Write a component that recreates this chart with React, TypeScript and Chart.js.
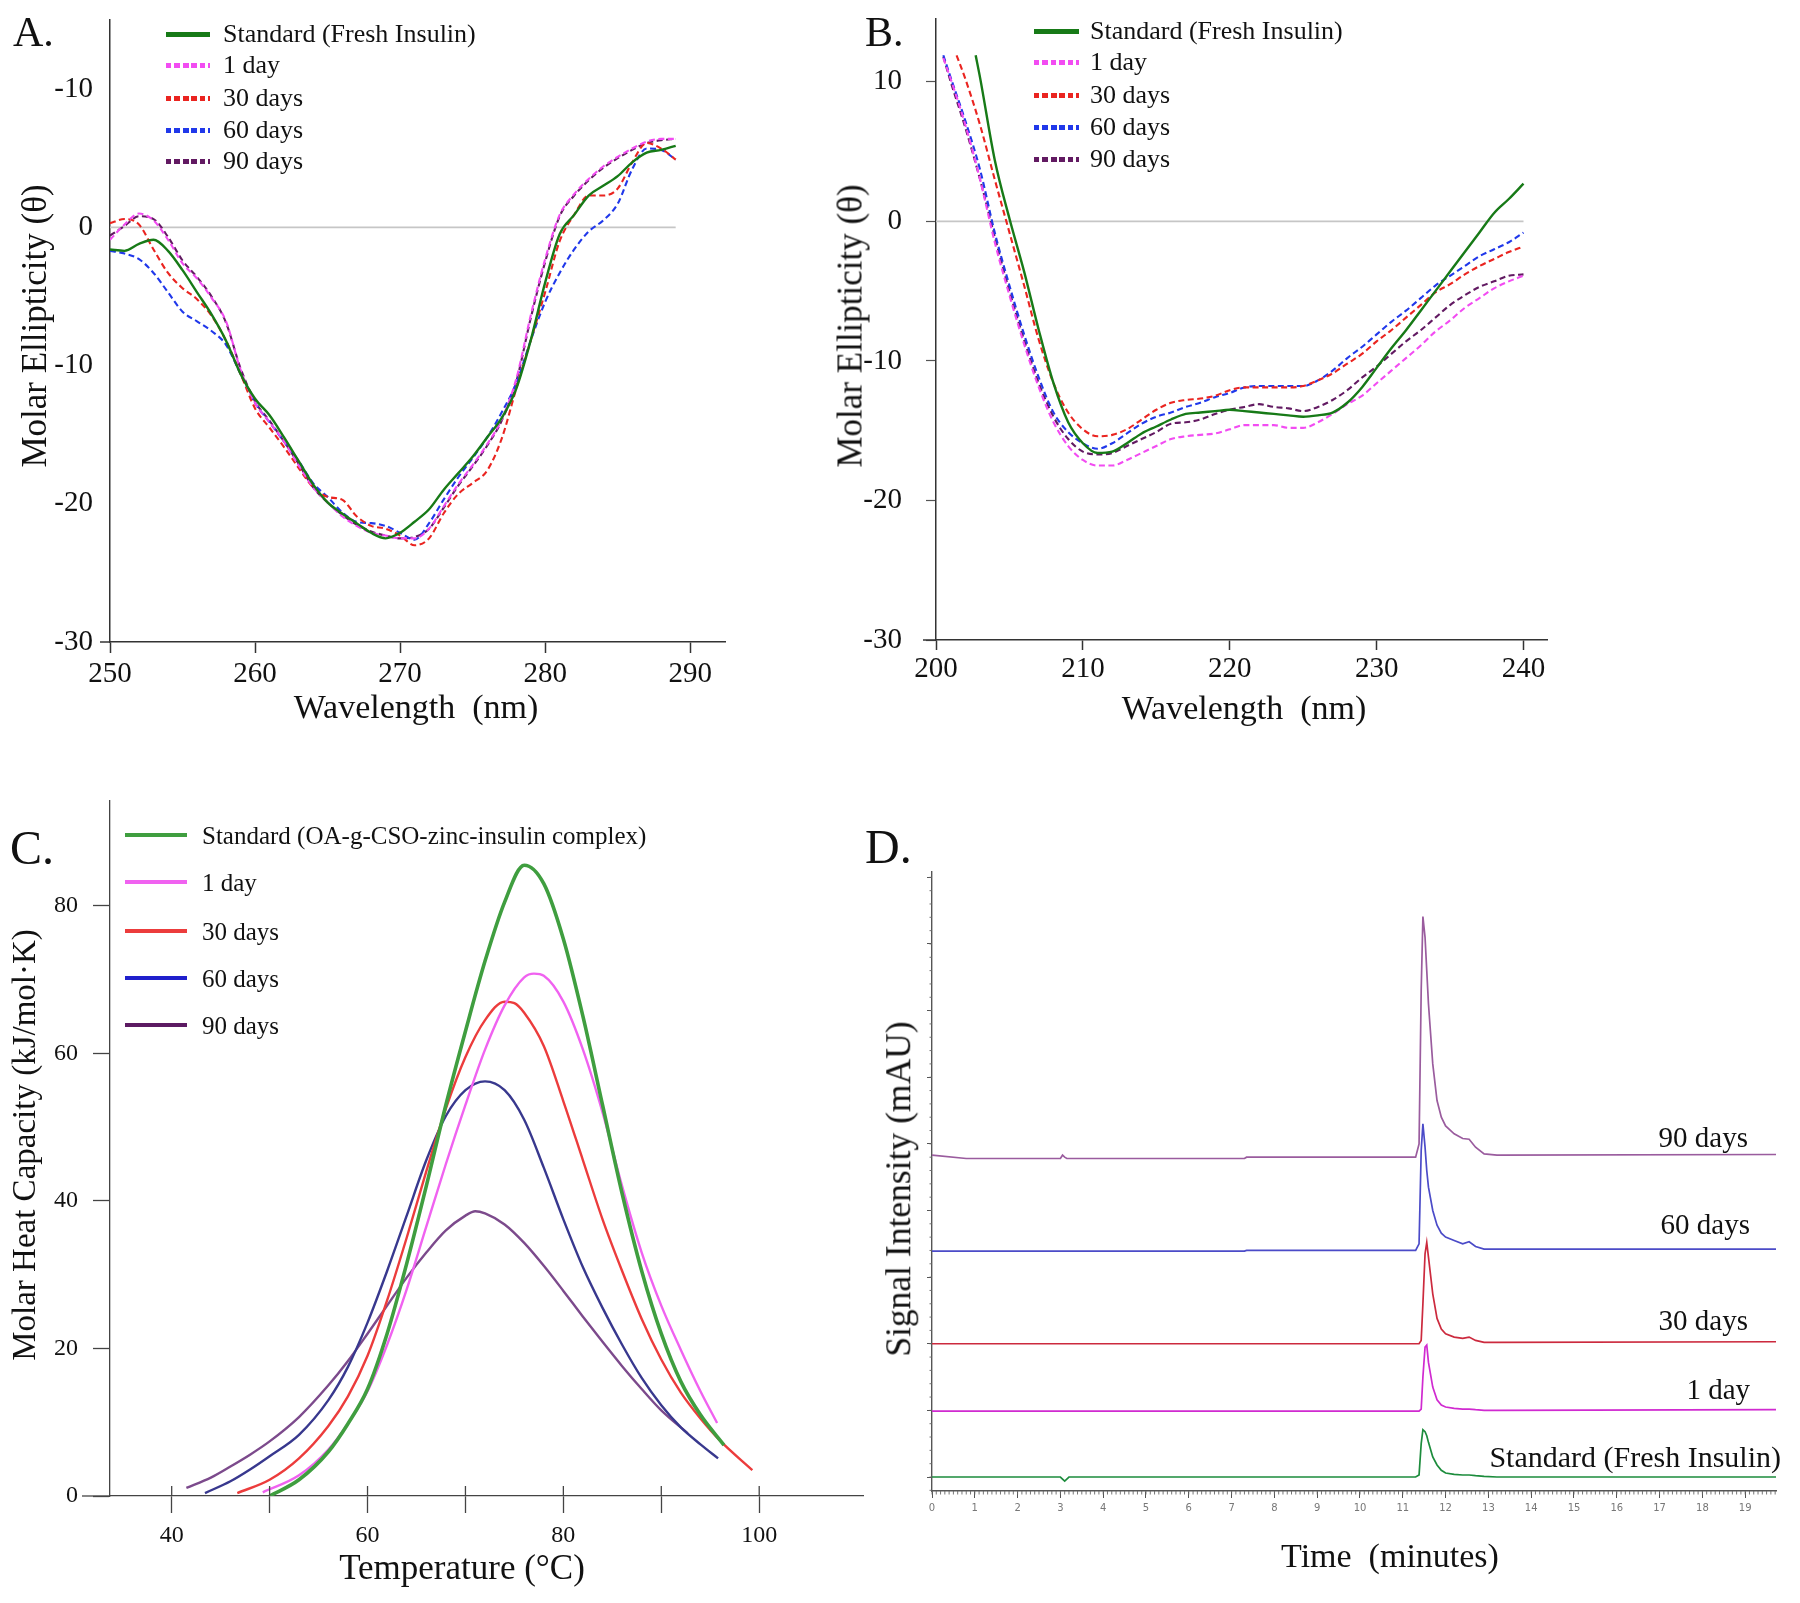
import React, { useEffect, useRef } from "react";
import { Chart, registerables } from "chart.js";

Chart.register(...registerables);

const SERIF = '"Liberation Serif", "Times New Roman", Times, serif';

/* ---------------- Panel A : near-UV CD ---------------- */
const A_WAVELENGTH = [250, 251, 252, 253, 254, 255, 256, 257, 258, 259, 260, 261, 262, 263, 264, 265, 266, 267, 268, 269, 270, 271, 272, 273, 274, 275, 276, 277, 278, 279, 280, 281, 282, 283, 284, 285, 286, 287, 288, 289];
const A_STANDARD = [-1.6, -1.7, -1.2, -0.9, -1.7, -3.1, -4.7, -6.3, -8.2, -10.6, -12.4, -13.6, -15.2, -16.9, -18.6, -19.9, -20.7, -21.4, -22.1, -22.5, -22.1, -21.3, -20.4, -19.0, -17.8, -16.6, -15.2, -13.8, -11.7, -8.2, -4.0, -0.5, 0.9, 2.3, 3.0, 3.7, 4.7, 5.4, 5.6, 5.9];
const A_DAY1 = [-0.9, 0.2, 1.0, 0.5, -0.9, -2.6, -3.7, -5.1, -6.8, -10.3, -12.7, -14.1, -15.5, -17.2, -18.8, -19.9, -20.9, -21.6, -22.1, -22.3, -22.5, -22.5, -21.8, -20.2, -18.6, -17.2, -15.7, -13.9, -11.0, -6.4, -2.3, 0.9, 2.4, 3.5, 4.4, 5.1, 5.7, 6.2, 6.4, 6.4];
const A_DAY30 = [0.3, 0.6, 0.2, -1.6, -3.3, -4.4, -5.2, -6.4, -8.2, -10.6, -13.1, -14.5, -15.9, -17.4, -18.8, -19.5, -19.7, -20.9, -21.6, -21.8, -22.3, -23.0, -22.5, -20.7, -19.3, -18.5, -17.6, -15.3, -11.7, -8.2, -4.7, -1.0, 0.9, 2.3, 2.3, 2.8, 4.7, 6.1, 5.7, 4.9];
const A_DAY60 = [-1.7, -1.9, -2.3, -3.3, -4.7, -6.1, -6.8, -7.5, -8.5, -10.6, -12.7, -14.1, -15.5, -16.9, -18.5, -19.5, -20.6, -21.3, -21.4, -21.6, -22.1, -22.6, -21.4, -19.7, -18.1, -16.7, -15.2, -13.4, -11.3, -8.2, -5.4, -3.3, -1.6, -0.3, 0.5, 1.7, 4.2, 5.7, 5.6, 4.9];
const A_DAY90 = [-0.6, 0.1, 0.8, 0.6, -0.7, -2.4, -3.6, -5.0, -6.9, -10.2, -12.6, -14.0, -15.5, -17.1, -18.8, -19.9, -20.8, -21.5, -22.0, -22.3, -22.5, -22.4, -21.8, -20.3, -18.7, -17.3, -15.8, -14.0, -11.2, -6.6, -2.5, 0.8, 2.3, 3.4, 4.3, 5.0, 5.6, 6.1, 6.3, 6.4];
const A_ZERO_LINE_X = [250, 289];
const A_X_TICKS = [250, 260, 270, 280, 290];
const A_Y_TICKS = [-30, -20, -10, 0, 10];
const A_Y_TICK_TEXT = ["-30", "-20", "-10", "0", "-10"];

/* ---------------- Panel B : far-UV CD ---------------- */
const B_WAVELENGTH = [200.5, 201, 201.4, 202, 202.7, 203, 204, 205, 206, 207, 208, 209, 210, 211, 212, 213, 214, 215, 216, 217, 218, 219, 220, 221, 222, 223, 224, 225, 226, 227, 228, 229, 230, 231, 232, 233, 234, 235, 236, 237, 238, 239, 240];
const B_STANDARD = [null, null, null, null, 11.9, 10.3, 4.4, 0.2, -3.6, -7.8, -11.6, -14.4, -15.9, -16.6, -16.5, -15.9, -15.2, -14.7, -14.2, -13.8, -13.7, -13.6, -13.5, -13.6, -13.7, -13.8, -13.9, -14.0, -13.9, -13.7, -13.0, -11.9, -10.5, -9.1, -7.8, -6.4, -5.0, -3.6, -2.2, -0.8, 0.6, 1.6, 2.7];
const B_DAY1 = [11.7, 10.2, null, 6.9, null, 3.0, -1.5, -5.3, -8.8, -11.9, -14.4, -16.1, -17.1, -17.5, -17.5, -17.1, -16.6, -16.1, -15.6, -15.4, -15.3, -15.2, -14.9, -14.6, -14.6, -14.6, -14.8, -14.8, -14.4, -13.8, -13.1, -12.5, -11.6, -10.7, -9.8, -8.9, -7.9, -7.1, -6.2, -5.5, -4.8, -4.3, -3.9];
const B_DAY30 = [null, null, 11.9, 10.2, null, 6.9, 3.0, -0.8, -4.6, -8.5, -11.6, -13.7, -14.9, -15.4, -15.3, -14.9, -14.2, -13.5, -13.0, -12.8, -12.7, -12.5, -12.1, -11.9, -11.9, -11.9, -11.9, -11.8, -11.4, -10.9, -10.2, -9.5, -8.6, -7.8, -6.9, -6.0, -5.1, -4.5, -3.8, -3.2, -2.7, -2.2, -1.8];
const B_DAY60 = [11.9, 10.3, null, 7.2, null, 3.7, -0.8, -4.6, -8.1, -11.2, -13.7, -15.1, -15.9, -16.3, -15.9, -15.2, -14.5, -14.0, -13.7, -13.3, -13.0, -12.6, -12.3, -11.9, -11.8, -11.8, -11.8, -11.8, -11.4, -10.7, -9.8, -9.0, -8.1, -7.2, -6.4, -5.5, -4.6, -3.9, -3.2, -2.5, -2.0, -1.5, -0.8];
const B_DAY90 = [11.8, 10.0, null, 6.7, null, 3.0, -1.1, -5.0, -8.5, -11.6, -14.0, -15.6, -16.5, -16.7, -16.6, -16.1, -15.6, -15.1, -14.5, -14.4, -14.2, -13.8, -13.5, -13.3, -13.1, -13.3, -13.4, -13.6, -13.3, -12.8, -12.1, -11.2, -10.4, -9.5, -8.6, -7.8, -6.9, -6.0, -5.3, -4.7, -4.3, -3.9, -3.8];
const B_ZERO_LINE_X = [200, 240];
const B_X_TICKS = [200, 210, 220, 230, 240];
const B_Y_TICKS = [-30, -20, -10, 0, 10];

/* ---------------- Panel C : DSC ---------------- */
const C_STANDARD_T = [50, 53, 56, 58, 60, 62, 64, 66, 68, 70, 72, 74, 76, 78, 80, 82, 84, 86, 88, 90, 92, 94, 96.4];
const C_STANDARD_CP = [0, 2.2, 6, 9.8, 14.5, 22, 31.5, 42, 53, 63, 72.5, 80.5, 85.5, 83, 75.5, 65, 53, 41, 30.5, 22, 15.5, 11, 6.9];
const C_DAY1_T = [49.3, 53, 56, 58, 60, 62, 64, 66, 68, 70, 72, 74, 76, 77, 78, 80, 82, 84, 86, 88, 90, 92, 94, 95.7];
const C_DAY1_CP = [0.5, 2.8, 6.3, 9.8, 14.2, 20.5, 28, 36.5, 45, 53, 60.5, 66.5, 70.3, 70.8, 70.5, 67, 60.5, 52, 42, 33, 25.8, 19.8, 14.2, 9.9];
const C_DAY30_T = [46.7, 50, 53, 56, 58, 60, 62, 64, 66, 68, 70, 72, 74, 75, 76, 78, 80, 82, 84, 86, 88, 90, 92, 94, 96, 99.3];
const C_DAY30_CP = [0.4, 2.2, 5.1, 9.5, 13.5, 19, 26.5, 35, 44, 52.5, 59.5, 64.5, 67, 66.8, 65.5, 61, 53.5, 45.5, 37.5, 30.5, 24, 18.5, 14, 10.5, 7.5, 3.5];
const C_DAY60_T = [43.4, 46, 48, 50, 53, 56, 58, 60, 62, 64, 66, 68, 70, 72, 74, 76, 78, 80, 82, 84, 86, 88, 90, 92, 94, 95.8];
const C_DAY60_CP = [0.4, 2.0, 3.6, 5.4, 8.3, 13, 17.5, 23.5, 30.5, 38, 45.5, 51.5, 55, 56.2, 55, 51, 44.5, 37.5, 31, 25.5, 20.5, 16, 12.3, 9.3, 7, 5.1];
const C_DAY90_T = [41.5, 44, 46, 48, 50, 53, 56, 58, 60, 62, 64, 66, 68, 70, 71, 72, 74, 76, 78, 80, 82, 84, 86, 88, 90, 92.7];
const C_DAY90_CP = [1.1, 2.5, 4.0, 5.6, 7.4, 10.7, 15, 18.3, 22, 25.8, 29.6, 33, 36, 38, 38.6, 38.3, 36.8, 34.3, 31.2, 27.8, 24.3, 20.9, 17.6, 14.5, 11.6, 8.5];
const C_X_TICKS = [40, 50, 60, 70, 80, 90, 100];
const C_X_LABELS = [40, 60, 80, 100];
const C_Y_TICKS = [0, 20, 40, 60, 80];

/* ---------------- Panel D : HPLC chromatograms (stacked, offset units) ---------------- */
const D_TIME = [0, 0.8, 3.0, 3.05, 3.1, 3.15, 3.2, 7.3, 7.35, 11.3, 11.38, 11.43, 11.47, 11.52, 11.56, 11.6, 11.7, 11.8, 11.9, 12.0, 12.2, 12.4, 12.55, 12.7, 12.9, 13.2, 19.75];
const D_DAY90 = [4.83, 4.78, 4.78, 4.83, 4.8, 4.78, 4.78, 4.78, 4.8, 4.8, 5.0, 7.3, 8.41, 8.1, 7.6, 7.1, 6.2, 5.65, 5.4, 5.27, 5.15, 5.08, 5.07, 4.95, 4.85, 4.83, 4.84];
const D_DAY60 = [3.39, 3.39, 3.39, 3.39, 3.39, 3.39, 3.39, 3.39, 3.4, 3.4, 3.5, 4.9, 5.3, 4.95, 4.6, 4.35, 4.0, 3.78, 3.66, 3.6, 3.55, 3.5, 3.53, 3.46, 3.42, 3.42, 3.42];
const D_DAY30 = [2.0, 2.0, 2.0, 2.0, 2.0, 2.0, 2.0, 2.0, 2.0, 2.0, 2.0, 2.05, 2.6, 3.35, 3.52, 3.3, 2.75, 2.38, 2.22, 2.15, 2.1, 2.08, 2.1, 2.05, 2.02, 2.02, 2.03];
const D_DAY1 = [0.99, 0.99, 0.99, 0.99, 0.99, 0.99, 0.99, 0.99, 0.99, 0.99, 0.99, 1.02, 1.5, 1.95, 1.98, 1.72, 1.35, 1.16, 1.08, 1.05, 1.03, 1.02, 1.02, 1.01, 1.0, 1.0, 1.01];
const D_STANDARD = [0, 0, 0, -0.03, -0.06, -0.03, 0, 0, 0, 0, 0.03, 0.5, 0.71, 0.68, 0.62, 0.52, 0.3, 0.18, 0.1, 0.06, 0.04, 0.03, 0.03, 0.02, 0.01, 0, 0];
const D_X_TICKS = [0, 1, 2, 3, 4, 5, 6, 7, 8, 9, 10, 11, 12, 13, 14, 15, 16, 17, 18, 19];
const D_Y_TICKS = [0, 1, 2, 3, 4, 5, 6, 7, 8, 9];

const CD_LABELS = ["Standard (Fresh Insulin)", "1 day", "30 days", "60 days", "90 days"];
const DSC_LABELS = ["Standard (OA-g-CSO-zinc-insulin complex)", "1 day", "30 days", "60 days", "90 days"];
const D_LABELS = ["90 days", "60 days", "30 days", "1 day", "Standard (Fresh Insulin)"];

/* colours */
const CD_COLORS = ["#177a17", "#f24cf2", "#ea2420", "#2038ea", "#621a62"];
const DSC_LINE_COLORS = ["#3f9e3f", "#f062f0", "#ec3c3c", "#38388e", "#7c4a8c"];
const DSC_LEGEND_COLORS = ["#3f9e3f", "#f062f0", "#ec3c3c", "#2020cc", "#5c1a62"];
const D_COLORS = ["#9a5c9e", "#4b4bc8", "#cc2a3e", "#d02ad0", "#1c8c3c"];

/* ---------------- helpers ---------------- */
const pts = (xs: number[], ys: (number | null)[]) => xs.map((x, i) => ({ x, y: ys[i] }));
const setTicks = (values: number[]) => (s: any) => {
  s.ticks = values.map((v) => ({ value: v }));
};
const fixSize = (dim: "width" | "height", size: number) => (s: any) => {
  s[dim] = size;
  s.paddingTop = 0;
  s.paddingBottom = 0;
  s.paddingLeft = 0;
  s.paddingRight = 0;
};

function decorPlugin(o: any) {
  return {
    id: "decor",
    afterDraw(chart: any) {
      const { ctx, chartArea } = chart;
      const xs = chart.scales.x;
      const ys = chart.scales.y;
      ctx.save();
      ctx.strokeStyle = o.color;
      ctx.lineWidth = o.width;
      const seg = (x1: number, y1: number, x2: number, y2: number) => {
        ctx.beginPath();
        ctx.moveTo(x1, y1);
        ctx.lineTo(x2, y2);
        ctx.stroke();
      };
      if (o.extendX) seg(chartArea.left - o.extendX, chartArea.bottom, chartArea.left, chartArea.bottom);
      if (o.innerX) {
        xs.ticks.forEach((t: any) => {
          const p = xs.getPixelForValue(t.value);
          seg(p, chartArea.bottom, p, chartArea.bottom - o.innerX);
        });
      }
      if (o.minorX) {
        const [step, len] = o.minorX;
        for (let i = Math.ceil(xs.min / step - 1e-9); i * step <= xs.max + 1e-9; i++) {
          const p = xs.getPixelForValue(i * step);
          seg(p, chartArea.bottom, p, chartArea.bottom + len);
        }
      }
      if (o.minorY) {
        const [step, len] = o.minorY;
        for (let i = Math.ceil(ys.min / step - 1e-9); i * step <= ys.max + 1e-9; i++) {
          const p = ys.getPixelForValue(i * step);
          seg(chartArea.left - len, p, chartArea.left, p);
        }
      }
      ctx.restore();
    },
  };
}

const baseOptions = (padding: any) => ({
  responsive: false,
  animation: false,
  events: [],
  devicePixelRatio: 1,
  layout: { padding },
  plugins: { legend: { display: false }, tooltip: { enabled: false } },
  elements: { point: { radius: 0 } },
});

function cdLines(xs: number[], series: (number | null)[][], zeroX: number[]) {
  const ds: any[] = series.map((ys, i) => ({
    label: CD_LABELS[i],
    data: pts(xs, ys),
    borderColor: CD_COLORS[i],
    borderWidth: i === 0 ? 2.4 : 2.1,
    borderDash: i === 0 ? [] : [6, 3.5],
    cubicInterpolationMode: "monotone",
    spanGaps: true,
    fill: false,
  }));
  ds.push({
    label: "zero",
    data: pts(zeroX, zeroX.map(() => 0)),
    borderColor: "#c6c6c6",
    borderWidth: 1.6,
    order: 10,
    fill: false,
  });
  return ds;
}

function configA() {
  return {
    type: "line",
    data: { datasets: cdLines(A_WAVELENGTH, [A_STANDARD, A_DAY1, A_DAY30, A_DAY60, A_DAY90], A_ZERO_LINE_X) },
    options: {
      ...baseOptions({ left: 0, top: 20, right: 135, bottom: 0 }),
      scales: {
        x: {
          type: "linear",
          min: 250,
          max: 292.4,
          afterBuildTicks: setTicks(A_X_TICKS),
          afterFit: fixSize("height", 118),
          ticks: { color: "#111", font: { family: SERIF, size: 29 }, padding: 4, maxRotation: 0, autoSkip: false },
          grid: { display: true, drawOnChartArea: false, drawTicks: true, tickLength: 11, tickColor: "#333", tickWidth: 1.5 },
          border: { display: true, color: "#333", width: 1.5 },
        },
        y: {
          type: "linear",
          min: -30,
          max: 15,
          afterBuildTicks: setTicks(A_Y_TICKS),
          afterFit: fixSize("width", 110),
          ticks: { color: "#111", font: { family: SERIF, size: 29 }, padding: 17, callback: (v: any) => A_Y_TICK_TEXT[A_Y_TICKS.indexOf(v)] },
          grid: { display: false, drawTicks: false },
          border: { display: true, color: "#333", width: 1.5 },
        },
      },
    },
    plugins: [decorPlugin({ color: "#333", width: 1.5, extendX: 10 })],
  };
}

function configB() {
  return {
    type: "line",
    data: { datasets: cdLines(B_WAVELENGTH, [B_STANDARD, B_DAY1, B_DAY30, B_DAY60, B_DAY90], B_ZERO_LINE_X) },
    options: {
      ...baseOptions({ left: 0, top: 19, right: 253, bottom: 0 }),
      scales: {
        x: {
          type: "linear",
          min: 200,
          max: 241.6,
          afterBuildTicks: setTicks(B_X_TICKS),
          afterFit: fixSize("height", 120),
          ticks: { color: "#111", font: { family: SERIF, size: 29 }, padding: 2, maxRotation: 0, autoSkip: false },
          grid: { display: true, drawOnChartArea: false, drawTicks: true, tickLength: 10, tickColor: "#333", tickWidth: 1.5 },
          border: { display: true, color: "#333", width: 1.5 },
        },
        y: {
          type: "linear",
          min: -30,
          max: 14.5,
          afterBuildTicks: setTicks(B_Y_TICKS),
          afterFit: fixSize("width", 106),
          ticks: { color: "#111", font: { family: SERIF, size: 29 }, padding: 24, callback: (v: any) => String(v) },
          grid: { display: true, drawOnChartArea: false, drawTicks: true, tickLength: 10, tickColor: "#555", tickWidth: 1.2 },
          border: { display: true, color: "#333", width: 1.5 },
        },
      },
    },
    plugins: [decorPlugin({ color: "#333", width: 1.5, extendX: 13 })],
  };
}

function configC() {
  const series = [
    [C_STANDARD_T, C_STANDARD_CP],
    [C_DAY1_T, C_DAY1_CP],
    [C_DAY30_T, C_DAY30_CP],
    [C_DAY60_T, C_DAY60_CP],
    [C_DAY90_T, C_DAY90_CP],
  ];
  return {
    type: "line",
    data: {
      datasets: series.map(([t, cp], i) => ({
        label: DSC_LABELS[i],
        data: pts(t as number[], cp as number[]),
        borderColor: DSC_LINE_COLORS[i],
        borderWidth: i === 0 ? 3.6 : 2.4,
        cubicInterpolationMode: "monotone",
        fill: false,
      })),
    },
    options: {
      ...baseOptions({ left: 0, top: 21, right: 17, bottom: 0 }),
      scales: {
        x: {
          type: "linear",
          min: 33.7,
          max: 110.6,
          afterBuildTicks: setTicks(C_X_TICKS),
          afterFit: fixSize("height", 107),
          ticks: { color: "#111", font: { family: SERIF, size: 24 }, padding: 8, maxRotation: 0, autoSkip: false, callback: (v: any) => (C_X_LABELS.includes(v) ? String(v) : "") },
          grid: { display: true, drawOnChartArea: false, drawTicks: true, tickLength: 17, tickColor: "#444", tickWidth: 1.3 },
          border: { display: true, color: "#444", width: 1.3 },
        },
        y: {
          type: "linear",
          min: 0,
          max: 94.2,
          afterBuildTicks: setTicks(C_Y_TICKS),
          afterFit: fixSize("width", 110),
          ticks: { color: "#111", font: { family: SERIF, size: 24 }, padding: 15, callback: (v: any) => String(v) },
          grid: { display: true, drawOnChartArea: false, drawTicks: true, tickLength: 17, tickColor: "#444", tickWidth: 1.3 },
          border: { display: true, color: "#444", width: 1.3 },
        },
      },
    },
    plugins: [decorPlugin({ color: "#444", width: 1.3, extendX: 28, innerX: 10 })],
  };
}

function configD() {
  const series = [D_DAY90, D_DAY60, D_DAY30, D_DAY1, D_STANDARD];
  return {
    type: "line",
    data: {
      datasets: series.map((ys, i) => ({
        label: D_LABELS[i],
        data: pts(D_TIME, ys),
        borderColor: D_COLORS[i],
        borderWidth: 1.7,
        tension: 0,
        fill: false,
      })),
    },
    options: {
      ...baseOptions({ left: 0, top: 92, right: 24, bottom: 0 }),
      scales: {
        x: {
          type: "linear",
          min: 0,
          max: 19.72,
          afterBuildTicks: setTicks(D_X_TICKS),
          afterFit: fixSize("height", 112),
          ticks: { color: "#777", font: { family: '"DejaVu Sans", sans-serif', size: 10 }, padding: 4, maxRotation: 0, autoSkip: false },
          grid: { display: true, drawOnChartArea: false, drawTicks: true, tickLength: 7, tickColor: "#555", tickWidth: 1 },
          border: { display: true, color: "#555", width: 1.4 },
        },
        y: {
          type: "linear",
          min: -0.21,
          max: 9.08,
          afterBuildTicks: setTicks(D_Y_TICKS),
          afterFit: fixSize("width", 72),
          ticks: { display: false },
          grid: { display: true, drawOnChartArea: false, drawTicks: true, tickLength: 5, tickColor: "#555", tickWidth: 1 },
          border: { display: true, color: "#555", width: 1.4 },
        },
      },
    },
    plugins: [decorPlugin({ color: "#666", width: 0.9, minorX: [0.1, 3.5], minorY: [0.2, 2.5] })],
  };
}

/* ---------------- components ---------------- */
function ChartCanvas({ left, top, width, height, build }: any) {
  const ref = useRef<HTMLCanvasElement | null>(null);
  useEffect(() => {
    const chart = new Chart(ref.current as HTMLCanvasElement, build());
    return () => chart.destroy();
  }, []);
  return <canvas ref={ref} width={width} height={height} style={{ position: "absolute", left, top, width, height }} />;
}

function Txt({ x, y, size, text, align = "left", rotate = false, color = "#111" }: any) {
  const tx = align === "left" ? "0" : align === "right" ? "-100%" : "-50%";
  return (
    <div
      style={{
        position: "absolute",
        left: x,
        top: y,
        fontSize: size,
        lineHeight: 1,
        whiteSpace: "pre",
        color,
        fontFamily: SERIF,
        transform: `translate(${tx}, -50%)${rotate ? " rotate(-90deg)" : ""}`,
      }}
    >
      {text}
    </div>
  );
}

function Swatch({ x, y, w, h, color, dotted }: any) {
  return (
    <div
      style={{
        position: "absolute",
        left: x,
        top: y - h / 2,
        width: w,
        height: h,
        background: dotted ? `repeating-linear-gradient(90deg, ${color} 0px, ${color} 5.5px, transparent 5.5px, transparent 8.5px)` : color,
      }}
    />
  );
}

function Legend({ rows, swX, swW, swH, textX, size, labels, colors, dottedFrom }: any) {
  return (
    <>
      {rows.map((cy: number, i: number) => (
        <React.Fragment key={i}>
          <Swatch x={swX} y={cy} w={swW} h={swH} color={colors[i]} dotted={dottedFrom !== undefined && i >= dottedFrom} />
          <Txt x={textX} y={cy} size={size} text={labels[i]} />
        </React.Fragment>
      ))}
    </>
  );
}

export default function App() {
  return (
    <div style={{ position: "absolute", left: 0, top: 0, width: 1800, height: 1603, background: "#fff", overflow: "hidden", fontFamily: SERIF }}>
      <ChartCanvas left={0} top={0} width={860} height={760} build={configA} />
      <ChartCanvas left={830} top={0} width={970} height={760} build={configB} />
      <ChartCanvas left={0} top={780} width={880} height={823} build={configC} />
      <ChartCanvas left={860} top={780} width={940} height={823} build={configD} />

      {/* panel letters */}
      <Txt x={13} y={32} size={42} text="A." />
      <Txt x={865} y={32} size={42} text="B." />
      <Txt x={10} y={848} size={48} text="C." />
      <Txt x={865} y={847} size={48} text="D." />

      {/* axis titles */}
      <Txt x={34} y={326} size={35} text="Molar Ellipticity (θ)" align="center" rotate />
      <Txt x={416} y={707} size={34} text="Wavelength  (nm)" align="center" />
      <Txt x={850} y={326} size={35} text="Molar Ellipticity (θ)" align="center" rotate />
      <Txt x={1244} y={708} size={34} text="Wavelength  (nm)" align="center" />
      <Txt x={24} y={1145} size={33} text="Molar Heat Capacity (kJ/mol·K)" align="center" rotate />
      <Txt x={462} y={1567} size={35} text="Temperature (°C)" align="center" />
      <Txt x={899} y={1189} size={35.5} text="Signal Intensity (mAU)" align="center" rotate />
      <Txt x={1390} y={1556} size={34} text="Time  (minutes)" align="center" />

      {/* legends */}
      <Legend rows={[34, 65, 98, 130, 161]} swX={166} swW={44} swH={5} textX={223} size={26} labels={CD_LABELS} colors={CD_COLORS} dottedFrom={1} />
      <Legend rows={[31, 62, 95, 127, 159]} swX={1034} swW={45} swH={5} textX={1090} size={26} labels={CD_LABELS} colors={CD_COLORS} dottedFrom={1} />
      <Legend rows={[835, 882, 931, 978, 1025]} swX={125} swW={62} swH={4.5} textX={202} size={25} labels={DSC_LABELS} colors={DSC_LEGEND_COLORS} />

      {/* chromatogram trace labels */}
      <Txt x={1748} y={1137} size={29} text="90 days" align="right" />
      <Txt x={1750} y={1224} size={29} text="60 days" align="right" />
      <Txt x={1748} y={1320} size={29} text="30 days" align="right" />
      <Txt x={1750} y={1389} size={29} text="1 day" align="right" />
      <Txt x={1781} y={1457} size={30} text="Standard (Fresh Insulin)" align="right" />
    </div>
  );
}
